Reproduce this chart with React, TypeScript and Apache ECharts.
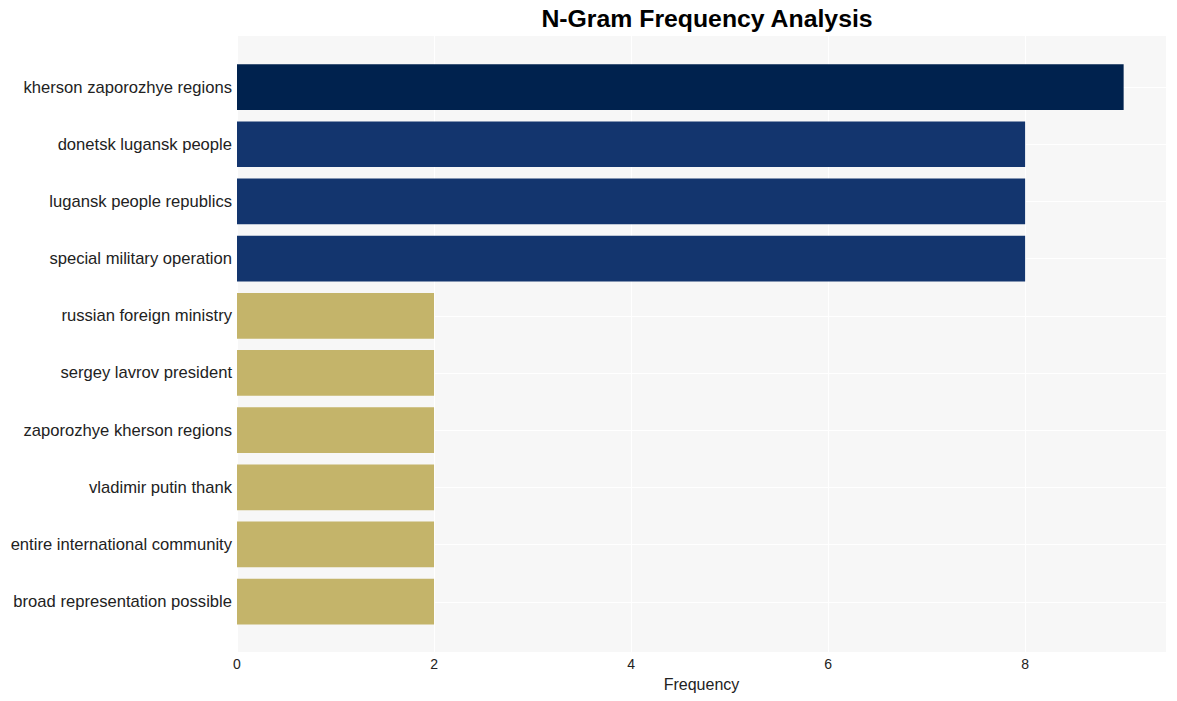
import React, { useEffect, useRef } from "react";
import * as echarts from "echarts";

const categories = [
  "kherson zaporozhye regions",
  "donetsk lugansk people",
  "lugansk people republics",
  "special military operation",
  "russian foreign ministry",
  "sergey lavrov president",
  "zaporozhye kherson regions",
  "vladimir putin thank",
  "entire international community",
  "broad representation possible",
];
const values = [9, 8, 8, 8, 2, 2, 2, 2, 2, 2];
const barColors = [
  "#00224e", "#13356e", "#13356e", "#13356e",
  "#c4b46a", "#c4b46a", "#c4b46a", "#c4b46a", "#c4b46a", "#c4b46a",
];
const xTicks = [0, 2, 4, 6, 8];

export default function App() {
  const ref = useRef<HTMLDivElement>(null);
  useEffect(() => {
    document.body.style.margin = "0";
    const chart = echarts.init(ref.current!, null, { renderer: "svg" });
    const font = "'Liberation Sans', Arial, sans-serif";
    const xMax = 9.43;
    chart.setOption({
      animation: false,
      title: {
        text: "N-Gram Frequency Analysis",
        left: 702,
        textAlign: "center",
        top: 1,
        textStyle: { fontFamily: font, fontSize: 24.8, fontWeight: "bold", color: "#000" },
      },
      grid: [
        { left: 237, right: 11, top: 36, bottom: 49, show: true, backgroundColor: "#f7f7f7", borderWidth: 0 },
        { left: 237, right: 11, top: 58.5, bottom: 70.8 },
        { left: 237, right: 11, top: 87, bottom: 99.2 },
      ],
      xAxis: [
        {
          gridIndex: 0, type: "value", min: 0, max: xMax, interval: 2,
          axisLine: { show: false }, axisTick: { show: false },
          splitLine: { show: true, lineStyle: { color: "#ffffff", width: 1 } },
          axisLabel: {
            fontFamily: font, fontSize: 14, color: "#222", margin: 5,
            customValues: xTicks,
            formatter: (v: number) => (xTicks.includes(v) ? String(v) : ""),
          },
          name: "Frequency", nameLocation: "middle", nameGap: 24,
          nameTextStyle: { fontFamily: font, fontSize: 16, color: "#222" },
        },
        { gridIndex: 1, type: "value", min: 0, max: xMax, show: false },
        { gridIndex: 2, type: "value", min: 0, max: xMax, show: false },
      ],
      yAxis: [
        { gridIndex: 0, type: "value", show: false },
        {
          gridIndex: 1, type: "category", data: categories, inverse: true,
          axisLine: { show: false }, axisTick: { show: false }, splitLine: { show: false },
          axisLabel: { fontFamily: font, fontSize: 16.6, color: "#222", margin: 5 },
        },
        {
          gridIndex: 2, type: "value", min: 0, max: 9, interval: 1, inverse: true,
          axisLine: { show: false }, axisTick: { show: false }, axisLabel: { show: false },
          splitLine: { show: true, lineStyle: { color: "#ffffff", width: 1 } },
        },
      ],
      series: [
        {
          type: "bar", xAxisIndex: 1, yAxisIndex: 1, barWidth: "80%",
          data: values.map((v, i) => ({ value: v, itemStyle: { color: barColors[i] } })),
        },
      ],
    });
    return () => chart.dispose();
  }, []);
  return <div ref={ref} style={{ width: 1177, height: 701 }} />;
}
